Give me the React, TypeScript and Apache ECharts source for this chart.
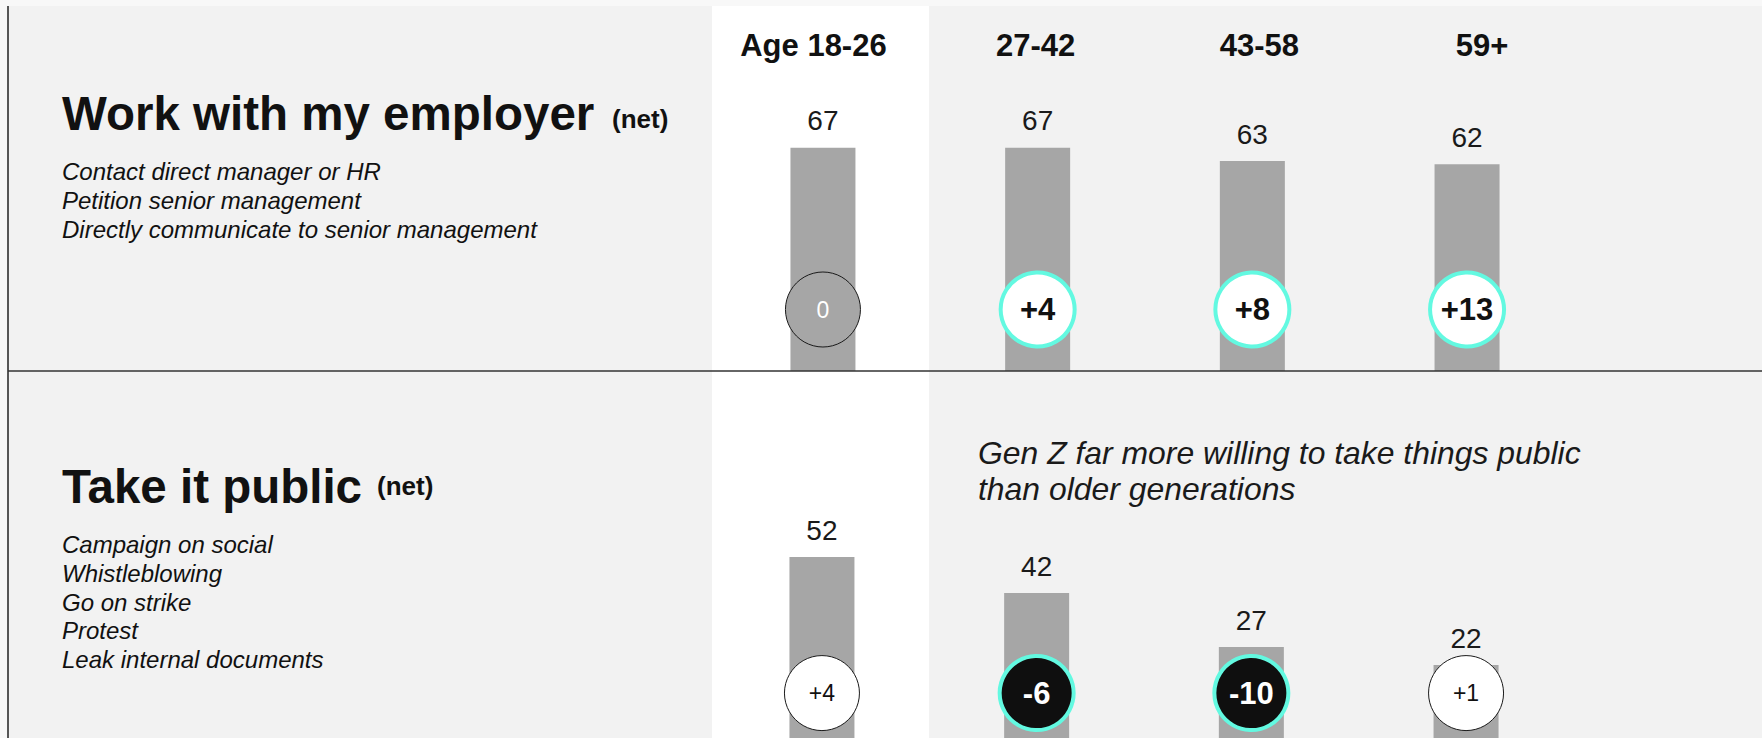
import React, { useEffect, useRef } from "react";
import * as echarts from "echarts";

const ageGroups = ["Age 18-26", "27-42", "43-58", "59+"];
const employerValues = [67, 67, 63, 62];
const employerChanges = [0, 4, 8, 13];
const employerSignificant = [false, true, true, true];
const publicValues = [52, 42, 27, 22];
const publicChanges = [4, -6, -10, 1];
const publicSignificant = [false, true, true, false];

const employerTitle = "Work with my employer";
const employerItems = [
  "Contact direct manager or HR",
  "Petition senior management",
  "Directly communicate to senior management",
];
const publicTitle = "Take it public";
const publicItems = [
  "Campaign on social",
  "Whistleblowing",
  "Go on strike",
  "Protest",
  "Leak internal documents",
];
const netLabel = "(net)";
const annotation = ["Gen Z far more willing to take things public", "than older generations"];

const FONT = '"Liberation Sans", Arial, Helvetica, sans-serif';
const TEAL = "#63F9E1";
const BAR = "#a6a6a6";
const INK = "#111111";

function fmtChange(c: number) {
  return c > 0 ? "+" + c : String(c);
}

function circleData(changes: number[], significant: boolean[], level: number) {
  return changes.map((c, i) => {
    const sig = significant[i];
    let fill = "#ffffff";
    let textColor = INK;
    if (sig) {
      fill = c < 0 ? "#0f0f0f" : "#ffffff";
      textColor = c < 0 ? "#ffffff" : INK;
    } else if (c === 0) {
      fill = BAR;
      textColor = "#ffffff";
    }
    return {
      value: [i, level],
      symbolSize: sig ? 74 : 75,
      itemStyle: {
        color: fill,
        opacity: 1,
        borderColor: sig ? TEAL : "#1a1a1a",
        borderWidth: sig ? 4 : 1,
      },
      label: {
        show: true,
        position: "inside",
        formatter: fmtChange(c),
        color: textColor,
        fontFamily: FONT,
        fontSize: sig ? 31 : 23,
        fontWeight: sig ? "bold" : "normal",
      },
    };
  });
}

export default function App() {
  const ref = useRef<HTMLDivElement>(null);

  useEffect(() => {
    if (!ref.current) return;
    const chart = echarts.init(ref.current, null, { renderer: "svg" });

    const gridLeft = 715.6;
    const gridWidth = 858.8;

    const valueLabel = {
      show: true,
      position: "top",
      distance: 13,
      fontFamily: FONT,
      fontSize: 28,
      color: "#1a1a1a",
    };

    const option: any = {
      animation: false,
      backgroundColor: "#f8f8f8",
      grid: [
        { left: gridLeft, width: gridWidth, top: 37.7, height: 333.3, outerBoundsMode: "none", containLabel: false },
        { left: gridLeft - 1, width: gridWidth, top: 384.2, height: 360, outerBoundsMode: "none", containLabel: false },
      ],
      xAxis: [
        {
          type: "category",
          gridIndex: 0,
          data: ageGroups,
          position: "top",
          axisLine: { show: false },
          axisTick: { show: false },
          splitLine: { show: false },
          axisLabel: {
            margin: -8,
            verticalAlign: "middle",
            formatter: (v: string, idx: number) => `{h${idx}|${v}}`,
            rich: {
              h0: { fontFamily: FONT, fontSize: 31, fontWeight: "bold", color: INK, padding: [0, 19, 0, 0] },
              h1: { fontFamily: FONT, fontSize: 31, fontWeight: "bold", color: INK, padding: [0, 4, 0, 0] },
              h2: { fontFamily: FONT, fontSize: 31, fontWeight: "bold", color: INK, padding: [0, 0, 0, 14] },
              h3: { fontFamily: FONT, fontSize: 31, fontWeight: "bold", color: INK, padding: [0, 0, 0, 30] },
            },
          },
        },
        {
          type: "category",
          gridIndex: 1,
          data: ageGroups,
          show: false,
        },
      ],
      yAxis: [
        { type: "value", gridIndex: 0, min: 0, max: 100, show: false, splitLine: { show: false } },
        { type: "value", gridIndex: 1, min: 0, max: 100, show: false, splitLine: { show: false } },
      ],
      series: [
        {
          type: "bar",
          xAxisIndex: 0,
          yAxisIndex: 0,
          data: employerValues,
          barWidth: 65,
          itemStyle: { color: BAR },
          label: valueLabel,
          z: 2,
        },
        {
          type: "bar",
          xAxisIndex: 1,
          yAxisIndex: 1,
          data: publicValues,
          barWidth: 65,
          itemStyle: { color: BAR },
          label: valueLabel,
          z: 2,
        },
        {
          type: "scatter",
          xAxisIndex: 0,
          yAxisIndex: 0,
          symbol: "circle",
          data: circleData(employerChanges, employerSignificant, 18.45),
          z: 4,
        },
        {
          type: "scatter",
          xAxisIndex: 1,
          yAxisIndex: 1,
          symbol: "circle",
          data: circleData(publicChanges, publicSignificant, 14.2),
          z: 4,
        },
      ],
      graphic: [
        { type: "rect", z: 0, shape: { x: 8, y: 6, width: 1754, height: 732 }, style: { fill: "#f2f2f2" } },
        { type: "rect", z: 0, shape: { x: 712, y: 6, width: 217, height: 732 }, style: { fill: "#ffffff" } },
        { type: "line", z: 10, shape: { x1: 8, y1: 6, x2: 8, y2: 738 }, style: { stroke: "#222", lineWidth: 1.5 } },
        { type: "line", z: 10, shape: { x1: 8, y1: 371, x2: 1762, y2: 371 }, style: { stroke: "#333", lineWidth: 1.5 } },
        {
          type: "text", z: 10, x: 62, y: 113.5,
          style: { text: employerTitle, fontFamily: FONT, fontSize: 47.5, fontWeight: "bold", fill: INK, align: "left", verticalAlign: "middle" },
        },
        {
          type: "text", z: 10, x: 612, y: 118.8,
          style: { text: netLabel, fontFamily: FONT, fontSize: 26, fontWeight: "bold", fill: INK, align: "left", verticalAlign: "middle" },
        },
        {
          type: "text", z: 10, x: 62, y: 156.5,
          style: { text: employerItems.join("\n"), fontFamily: FONT, fontSize: 24, fontStyle: "italic", lineHeight: 29, fill: INK, align: "left", verticalAlign: "top" },
        },
        {
          type: "text", z: 10, x: 62, y: 486.2,
          style: { text: publicTitle, fontFamily: FONT, fontSize: 47.5, fontWeight: "bold", fill: INK, align: "left", verticalAlign: "middle" },
        },
        {
          type: "text", z: 10, x: 377, y: 485.5,
          style: { text: netLabel, fontFamily: FONT, fontSize: 26, fontWeight: "bold", fill: INK, align: "left", verticalAlign: "middle" },
        },
        {
          type: "text", z: 10, x: 62, y: 530.3,
          style: { text: publicItems.join("\n"), fontFamily: FONT, fontSize: 24, fontStyle: "italic", lineHeight: 28.75, fill: INK, align: "left", verticalAlign: "top" },
        },
        {
          type: "text", z: 10, x: 978, y: 435.4,
          style: { text: annotation.join("\n"), fontFamily: FONT, fontSize: 31.9, fontStyle: "italic", lineHeight: 36, fill: "#1a1a1a", align: "left", verticalAlign: "top" },
        },
      ],
    };

    chart.setOption(option);
    return () => chart.dispose();
  }, []);

  return (
    <div
      ref={ref}
      style={{ position: "fixed", left: 0, top: 0, width: 1762, height: 738 }}
    />
  );
}
